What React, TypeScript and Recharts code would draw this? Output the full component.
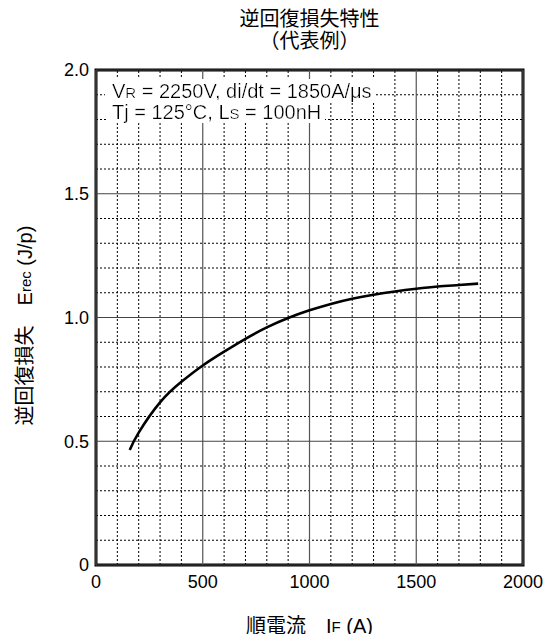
import React from 'react';
import { LineChart, Line, XAxis, YAxis, ReferenceLine, ReferenceArea } from 'recharts';

// forward current IF (A) and reverse recovery loss Erec (J/p)
const currentA = [158, 200, 300, 400, 500, 600, 700, 800, 900, 1000, 1100, 1200, 1300, 1400, 1500, 1600, 1700, 1790];
const erecJ = [0.465, 0.535, 0.657, 0.74, 0.806, 0.862, 0.914, 0.96, 0.998, 1.029, 1.055, 1.076, 1.092, 1.105, 1.116, 1.125, 1.131, 1.137];

const xMajorTicks = [0, 500, 1000, 1500, 2000];
const xMinorTicks = [100, 200, 300, 400, 600, 700, 800, 900, 1100, 1200, 1300, 1400, 1600, 1700, 1800, 1900];
const yMajorTicks = [0, 0.5, 1, 1.5, 2];
const yMinorTicks = [0.1, 0.2, 0.3, 0.4, 0.6, 0.7, 0.8, 0.9, 1.1, 1.2, 1.3, 1.4, 1.6, 1.7, 1.8, 1.9];

const titleLines = ['逆回復損失特性', '（代表例）'];

// [text, isSmall]
const condLine1: [string, boolean][] = [['V', false], ['R', true], [' = 2250V, di/dt = 1850A/μs', false]];
const condLine2: [string, boolean][] = [['T', false], ['j', false], [' = 125°C, L', false], ['S', true], [' = 100nH', false]];
const condRows = [1.9, 1.8];
const xLabelParts: [string, boolean][] = [['順電流　I', false], ['F', true], [' (A)', false]];
const yLabelParts: [string, boolean][] = [['逆回復損失　E', false], ['rec', true], [' (J/p)', false]];

const data = currentA.map((x, i) => ({ x, e: erecJ[i] }));

const FONT = '"Liberation Sans", Arial, "Noto Sans CJK JP", sans-serif';
const FS_TICK = 18;
const FS = 20;
const FS_SMALL = 15;

const Parts = ({ parts }: { parts: [string, boolean][] }) => (
  <>
    {parts.map(([t, small], i) => (
      <tspan key={i} fontSize={small ? FS_SMALL : FS}>{t}</tspan>
    ))}
  </>
);

const CondLabel = (props: any) => {
  const { viewBox, parts, dy } = props;
  if (!viewBox) return null;
  return (
    <text x={viewBox.x + 16} y={viewBox.y + dy} fontFamily={FONT} fontSize={FS} fill="#000" filter="url(#textBg)">
      <Parts parts={parts} />
    </text>
  );
};

const XLabel = (props: any) => {
  const { viewBox } = props;
  if (!viewBox) return null;
  return (
    <text x={viewBox.x + viewBox.width / 2} y={viewBox.y + 61} textAnchor="middle" dominantBaseline="central" fontFamily={FONT} fontSize={FS} fill="#000">
      <Parts parts={xLabelParts} />
    </text>
  );
};

const YLabel = (props: any) => {
  const { viewBox } = props;
  if (!viewBox) return null;
  const cx = viewBox.x - 31;
  const cy = viewBox.y + viewBox.height / 2 + 8;
  return (
    <text x={cx} y={cy} transform={`rotate(-90 ${cx} ${cy})`} textAnchor="middle" dominantBaseline="central" fontFamily={FONT} fontSize={FS} fill="#000">
      <Parts parts={yLabelParts} />
    </text>
  );
};

export default function App() {
  const tickStyle = { fill: '#000', fontSize: FS_TICK, fontFamily: FONT };
  return (
    <div style={{ position: 'relative', width: 538, height: 626, fontFamily: FONT }}>
      <style>{'.recharts-surface { overflow: visible; } .recharts-wrapper { overflow: visible; }'}</style>
      <svg width={0} height={0} style={{ position: 'absolute' }}>
        <defs>
          <filter id="textBg" x="-0.025" y="0" width="1.04" height="1">
            <feFlood floodColor="#fff" />
            <feComposite in="SourceGraphic" operator="over" />
          </filter>
        </defs>
      </svg>
      <div style={{ position: 'absolute', left: 88, top: 0, width: 427, textAlign: 'center', fontSize: 20, lineHeight: '22px', color: '#000' }}>
        {titleLines.map(t => <div key={t}>{t}</div>)}
      </div>
      <LineChart width={538} height={626} data={data} margin={{ top: 62, right: 23, bottom: 39, left: 48 }}>
        <XAxis
          dataKey="x"
          type="number"
          domain={[0, 2000]}
          ticks={xMajorTicks}
          tick={tickStyle}
          tickLine={false}
          axisLine={false}
          tickSize={0}
          tickMargin={10}
          height={30}
          interval={0}
          label={<XLabel />}
        />
        <YAxis
          type="number"
          domain={[0, 2]}
          ticks={yMajorTicks}
          tickFormatter={(v: number) => (v === 0 ? '0' : v.toFixed(1))}
          tick={tickStyle}
          tickLine={false}
          axisLine={false}
          tickSize={0}
          tickMargin={7}
          width={40}
          interval={0}
          label={<YLabel />}
        />
        {xMinorTicks.map(v => (
          <ReferenceLine key={'xm' + v} x={v} stroke="#000" strokeWidth={1} strokeDasharray="2 2" />
        ))}
        {yMinorTicks.map(v => (
          <ReferenceLine key={'ym' + v} y={v} stroke="#000" strokeWidth={1} strokeDasharray="2 2" />
        ))}
        {xMajorTicks.map(v => (
          <ReferenceLine key={'xM' + v} x={v} stroke="#555" strokeWidth={1.2} />
        ))}
        {yMajorTicks.map(v => (
          <ReferenceLine key={'yM' + v} y={v} stroke="#444" strokeWidth={1.2} />
        ))}
        <ReferenceLine y={condRows[0]} stroke="none" label={<CondLabel parts={condLine1} dy={3} />} />
        <ReferenceLine y={condRows[1]} stroke="none" label={<CondLabel parts={condLine2} dy={-1} />} />
        <ReferenceArea x1={0} x2={2000} y1={0} y2={2} fill="none" stroke="#000" strokeWidth={3} ifOverflow="visible" />
        <Line type="natural" dataKey="e" stroke="#000" strokeWidth={2.6} dot={false} isAnimationActive={false} />
      </LineChart>
    </div>
  );
}
